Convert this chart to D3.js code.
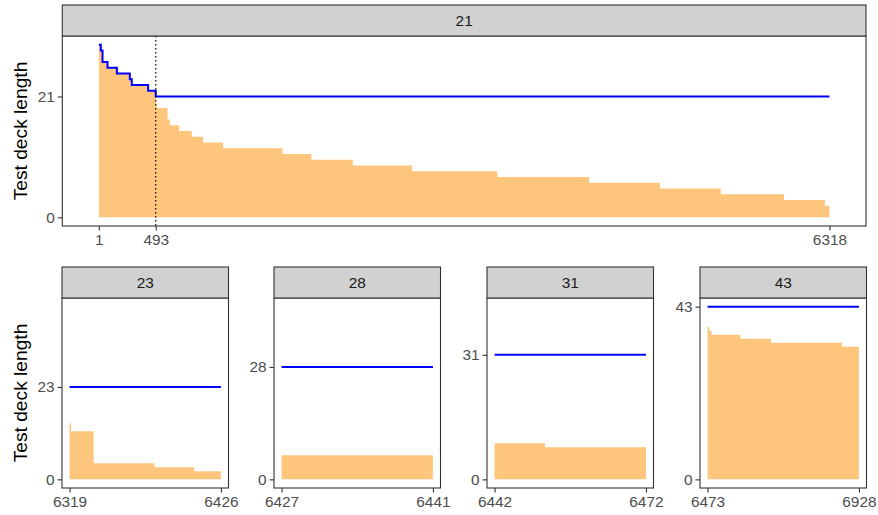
<!DOCTYPE html>
<html>
<head>
<meta charset="utf-8">
<script src="https://cdn.jsdelivr.net/npm/d3@7"></script>
<style>
  body { margin: 0; background: #fff; }
  svg { font-family: "Liberation Sans", Arial, sans-serif; }
</style>
</head>
<body>
<div id="chart"></div>
<script>
// Facet labels (current deck length limit) and x ranges of each facet
const facets = [21, 23, 28, 31, 43];
const facetStart = [1, 6319, 6427, 6442, 6473];
const facetEnd = [6318, 6426, 6441, 6472, 6928];

// Orange step area: step start positions and values
const stepX = [
    [1, 18, 33, 76, 157, 269, 286, 427, 493, 500, 595, 615, 695, 805, 902, 1075,
     1589, 1839, 2196, 2709, 3447, 4239, 4852, 5377, 5924, 6278],
    [6319, 6320, 6336, 6379, 6407],
    [6427],
    [6442, 6452],
    [6473, 6478, 6485, 6572, 6664, 6877]
];
const stepY = [
    [30, 29, 27, 26, 25, 24, 23, 22, 20, 19, 17, 16, 15, 14, 13, 12,
     11, 10, 9, 8, 7, 6, 5, 4, 3, 2],
    [14, 12, 4, 3, 2],
    [6],
    [9, 8],
    [38, 37, 36, 35, 34, 33]
];

// Blue step line (first facet steps down, others flat at facet value)
const blueX = [[1, 18, 33, 76, 157, 269, 286, 427, 493], [6319], [6427], [6442], [6473]];
const blueY = [[30, 29, 27, 26, 25, 24, 23, 22, 21], [23], [28], [31], [43]];

// x tick labels
const xTicks = [[1, 493, 6318], [6319, 6426], [6427, 6441], [6442, 6472], [6473, 6928]];
const markerX = 493;

const W = 878, H = 515;
const svg = d3.select("#chart").append("svg")
    .attr("width", W)
    .attr("height", H);

const orange = "#fec57c";
const tickFont = 15.4;

// panel boxes
const boxes = [
    { x: 62.3, y: 36, w: 803.7, h: 190, strip: 31 },
    { x: 62, y: 298, w: 166.5, h: 190, strip: 31 },
    { x: 274, y: 298, w: 166.5, h: 190, strip: 31 },
    { x: 487, y: 298, w: 166.5, h: 190, strip: 31 },
    { x: 700, y: 298, w: 166.5, h: 190, strip: 31 }
];

function expand(lo, hi) {
    const pad = (hi - lo) * 0.05;
    return [lo - pad, hi + pad];
}

function drawPanel(i) {
    const b = boxes[i];
    const g = svg.append("g").attr("transform", `translate(${b.x},${b.y})`);

    const x = d3.scaleLinear()
        .domain(expand(facetStart[i], facetEnd[i]))
        .range([0, b.w]);
    const yMax = i === 0 ? 30 : 43;
    const y = d3.scaleLinear()
        .domain(expand(0, yMax))
        .range([b.h, 0]);

    // orange step area
    const pts = stepX[i].map((v, k) => [v, stepY[i][k]]);
    pts.push([facetEnd[i], stepY[i][stepY[i].length - 1]]);
    const area = d3.area()
        .curve(d3.curveStepAfter)
        .x(d => x(d[0]))
        .y0(y(0))
        .y1(d => y(d[1]));
    g.append("path")
        .attr("d", area(pts))
        .attr("fill", orange);

    // blue line
    const bpts = blueX[i].map((v, k) => [v, blueY[i][k]]);
    bpts.push([facetEnd[i], blueY[i][blueY[i].length - 1]]);
    const line = d3.line()
        .curve(d3.curveStepAfter)
        .x(d => x(d[0]))
        .y(d => y(d[1]));
    g.append("path")
        .attr("d", line(bpts))
        .attr("fill", "none")
        .attr("stroke", "#0000ff")
        .attr("stroke-width", 2);

    // dotted marker in first facet
    if (i === 0) {
        g.append("line")
            .attr("x1", x(markerX)).attr("x2", x(markerX))
            .attr("y1", 0).attr("y2", b.h)
            .attr("stroke", "#000")
            .attr("stroke-width", 1.2)
            .attr("stroke-dasharray", "1.5,2.5");
    }

    // panel border
    g.append("rect")
        .attr("width", b.w).attr("height", b.h)
        .attr("fill", "none")
        .attr("stroke", "#333")
        .attr("stroke-width", 1.1);

    // strip
    g.append("rect")
        .attr("y", -b.strip)
        .attr("width", b.w).attr("height", b.strip)
        .attr("fill", "#d1d1d1")
        .attr("stroke", "#333")
        .attr("stroke-width", 1.1);
    g.append("text")
        .attr("x", b.w / 2)
        .attr("y", -b.strip / 2 + 5.5)
        .attr("text-anchor", "middle")
        .attr("font-size", tickFont)
        .attr("fill", "#1a1a1a")
        .text(facets[i]);

    // axes
    const xAxis = g.append("g")
        .attr("transform", `translate(0,${b.h})`)
        .call(d3.axisBottom(x).tickValues(xTicks[i]).tickFormat(d3.format("d"))
            .tickSize(4.5).tickPadding(4));
    const yAxis = g.append("g")
        .call(d3.axisLeft(y).tickValues([0, facets[i]]).tickFormat(d3.format("d"))
            .tickSize(4.5).tickPadding(3));
    [xAxis, yAxis].forEach(a => {
        a.select(".domain").remove();
        a.selectAll("line").attr("stroke", "#333").attr("stroke-width", 1.1);
        a.selectAll("text")
            .attr("font-size", tickFont)
            .attr("fill", "#4d4d4d")
            .attr("font-family", "Liberation Sans, Arial, sans-serif");
    });

    // y title on left column
    if (i <= 1) {
        svg.append("text")
            .attr("transform", `translate(27,${b.y + b.h / 2}) rotate(-90)`)
            .attr("text-anchor", "middle")
            .attr("font-size", 19.2)
            .attr("fill", "#000")
            .text("Test deck length");
    }
}

facets.forEach((f, i) => drawPanel(i));
</script>
</body>
</html>
